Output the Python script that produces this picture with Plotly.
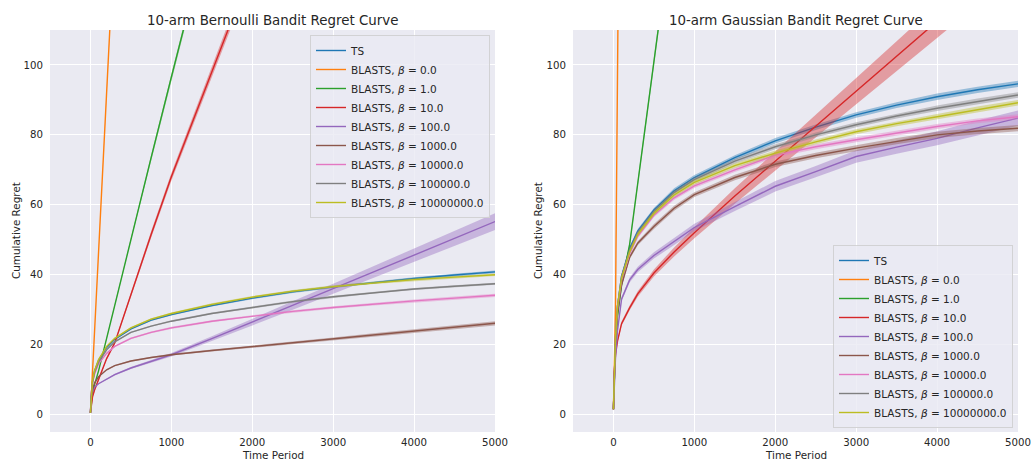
import plotly.graph_objects as go

# ---------------- data ----------------
T = [0, 10, 25, 50, 100, 200, 300, 500, 750, 1000, 1500, 2000, 2500, 3000, 3500, 4000, 4500, 5000]

LABELS = ["TS",
          "BLASTS, <i>β</i> = 0.0",
          "BLASTS, <i>β</i> = 1.0",
          "BLASTS, <i>β</i> = 10.0",
          "BLASTS, <i>β</i> = 100.0",
          "BLASTS, <i>β</i> = 1000.0",
          "BLASTS, <i>β</i> = 10000.0",
          "BLASTS, <i>β</i> = 100000.0",
          "BLASTS, <i>β</i> = 10000000.0"]

COLORS = ["#1f77b4", "#ff7f0e", "#2ca02c", "#d62728", "#9467bd",
          "#8c564b", "#e377c2", "#7f7f7f", "#bcbd22"]

# 10-arm Bernoulli bandit: mean cumulative regret
bern_ts   = [0.5, 6, 9.5, 12.5, 15.5, 19.2, 21.5, 24.5, 27, 28.6, 31.2, 33.3, 35.1, 36.5, 37.8, 38.9, 39.9, 40.8]
bern_b0   = [0.5, 5, 11.5, 23, 46, 92, 138, 230, 345, 460, 690, 920, 1150, 1380, 1610, 1840, 2070, 2300]
bern_b1   = [0.5, 3.5, 6, 8.5, 12.5, 21.8, 31.3, 50.3, 73.5, 96.5, 142, 187.5, 233, 278.5, 324, 369.5, 415, 460.5]
bern_b10  = [0.5, 3, 5, 7, 10, 16, 20.5, 34.5, 51.5, 68, 98, 128, 158, 188, 218, 248, 278, 308]
bern_b100 = [0.5, 5, 6.5, 7.8, 8.8, 10.2, 11.4, 13.3, 15.2, 17.1, 21.7, 26.4, 31.2, 36.0, 40.8, 45.6, 50.4, 55.2]
bern_b1e3 = [0.5, 5, 7, 9, 10.8, 12.8, 14, 15.3, 16.3, 17.1, 18.3, 19.4, 20.5, 21.6, 22.8, 23.9, 25.0, 26.1]
bern_b1e4 = [0.5, 6, 9, 11.5, 14.5, 17.5, 19.5, 21.8, 23.5, 24.8, 26.7, 28.2, 29.5, 30.6, 31.6, 32.5, 33.3, 34.1]
bern_b1e5 = [0.5, 6, 9, 12, 15, 18.5, 20.8, 23.5, 25.3, 26.7, 28.9, 30.6, 32.3, 33.7, 34.9, 35.9, 36.7, 37.4]
bern_b1e7 = [0.5, 6, 9.5, 12.5, 15.7, 19.5, 21.8, 24.8, 27.3, 28.9, 31.5, 33.6, 35.3, 36.6, 37.7, 38.6, 39.3, 40.0]

# Bernoulli: confidence band half-widths
bern_ci_ts   = [0, 0.1, 0.1, 0.15, 0.2, 0.2, 0.2, 0.25, 0.25, 0.3, 0.3, 0.3, 0.35, 0.35, 0.35, 0.4, 0.4, 0.4]
bern_ci_b0   = [0, 0.1, 0.2, 0.3, 0.4, 0.6, 0.8, 1.0, 1.3, 1.6, 2, 2.5, 3, 3.5, 4, 4.5, 5, 5.5]
bern_ci_b1   = [0, 0.1, 0.1, 0.2, 0.2, 0.3, 0.4, 0.5, 0.7, 0.9, 1.2, 1.5, 1.8, 2.1, 2.4, 2.7, 3, 3.3]
bern_ci_b10  = [0, 0.1, 0.1, 0.2, 0.2, 0.3, 0.4, 0.6, 0.9, 1.1, 1.5, 1.9, 2.3, 2.7, 3.1, 3.5, 3.9, 4.3]
bern_ci_b100 = [0, 0.1, 0.1, 0.1, 0.15, 0.2, 0.25, 0.3, 0.4, 0.5, 0.7, 0.9, 1.2, 1.4, 1.7, 1.9, 2.2, 2.4]
bern_ci_b1e3 = [0, 0.1, 0.1, 0.1, 0.15, 0.15, 0.2, 0.2, 0.2, 0.25, 0.3, 0.3, 0.35, 0.4, 0.45, 0.5, 0.55, 0.6]
bern_ci_b1e4 = [0, 0.1, 0.1, 0.15, 0.2, 0.2, 0.2, 0.25, 0.25, 0.3, 0.3, 0.3, 0.35, 0.35, 0.4, 0.4, 0.45, 0.45]
bern_ci_b1e5 = [0, 0.1, 0.1, 0.15, 0.15, 0.2, 0.2, 0.2, 0.2, 0.25, 0.25, 0.25, 0.3, 0.3, 0.3, 0.3, 0.3, 0.3]
bern_ci_b1e7 = [0, 0.1, 0.1, 0.15, 0.2, 0.2, 0.2, 0.25, 0.25, 0.3, 0.3, 0.3, 0.3, 0.35, 0.35, 0.35, 0.35, 0.35]

# 10-arm Gaussian bandit: mean cumulative regret
gaus_ts   = [1.5, 14, 22, 31, 39.5, 47.5, 52.5, 58.5, 64, 67.8, 73.5, 78.3, 82.2, 85.7, 88.5, 90.9, 92.9, 94.6]
gaus_b0   = [1.5, 12, 30, 97, 232, 502, 772, 1312, 1987, 2662, 4012, 5362, 6712, 8062, 9412, 10762, 12112, 13462]
gaus_b1   = [1.5, 13, 20, 28, 37, 48.7, 66, 101, 144.5, 188, 275, 362, 449, 536, 623, 710, 797, 884]
gaus_b10  = [1.5, 12, 17, 21, 26, 30.5, 34.5, 40.5, 46.5, 52, 62.5, 72.5, 82.5, 92.5, 102.5, 112.5, 122.5, 132.5]
gaus_b100 = [1.5, 10, 16, 24, 33, 38.5, 41.5, 45.5, 49.5, 53.5, 59.5, 65.3, 69.5, 73.8, 76.5, 79, 82, 84.8]
gaus_b1e3 = [1.5, 13, 21, 29, 37, 45, 49, 53.8, 59, 62.9, 67.8, 71.6, 74.1, 76.2, 78.2, 80, 81.1, 81.9]
gaus_b1e4 = [1.5, 14, 22, 30.5, 38.5, 46, 51, 57, 62, 65.4, 70, 74.2, 76.6, 78.6, 80.6, 82.4, 84, 85.2]
gaus_b1e5 = [1.5, 14, 22, 31, 39.5, 47, 52, 58, 63.5, 67.2, 72.5, 76.6, 80, 82.9, 85.4, 87.6, 89.6, 91.4]
gaus_b1e7 = [1.5, 14, 22, 31, 39, 46.5, 51.5, 57.5, 62.8, 66.4, 71.2, 74.8, 78, 80.9, 83.2, 85.2, 87.3, 89.2]

# Gaussian: confidence band half-widths
gaus_ci_ts   = [0, 0.3, 0.4, 0.5, 0.5, 0.6, 0.6, 0.6, 0.7, 0.7, 0.7, 0.8, 0.8, 0.8, 0.8, 0.9, 0.9, 0.9]
gaus_ci_b0   = [0, 0.3, 0.5, 1, 2, 4, 6, 10, 15, 20, 30, 40, 50, 60, 70, 80, 90, 100]
gaus_ci_b1   = [0, 0.3, 0.4, 0.5, 0.6, 0.7, 0.9, 1.2, 1.6, 2, 3, 4, 5, 6, 7, 8, 9, 10]
gaus_ci_b10  = [0, 0.3, 0.4, 0.5, 0.6, 0.7, 0.8, 1.0, 1.3, 1.6, 2.2, 2.8, 3.3, 3.8, 4.3, 4.8, 5.3, 5.8]
gaus_ci_b100 = [0, 0.3, 0.4, 0.5, 0.6, 0.7, 0.8, 0.9, 1.0, 1.1, 1.3, 1.5, 1.6, 1.8, 1.9, 2.0, 2.1, 2.2]
gaus_ci_b1e3 = [0, 0.3, 0.4, 0.5, 0.5, 0.6, 0.6, 0.7, 0.7, 0.7, 0.8, 0.8, 0.8, 0.8, 0.9, 0.9, 0.9, 0.9]
gaus_ci_b1e4 = [0, 0.3, 0.4, 0.5, 0.5, 0.5, 0.6, 0.6, 0.6, 0.6, 0.6, 0.7, 0.7, 0.7, 0.7, 0.7, 0.7, 0.7]
gaus_ci_b1e5 = [0, 0.3, 0.4, 0.5, 0.5, 0.6, 0.6, 0.6, 0.6, 0.7, 0.7, 0.7, 0.7, 0.7, 0.7, 0.8, 0.8, 0.8]
gaus_ci_b1e7 = [0, 0.3, 0.4, 0.5, 0.5, 0.6, 0.6, 0.6, 0.6, 0.7, 0.7, 0.7, 0.7, 0.7, 0.7, 0.8, 0.8, 0.8]

BERN = [bern_ts, bern_b0, bern_b1, bern_b10, bern_b100, bern_b1e3, bern_b1e4, bern_b1e5, bern_b1e7]
BERN_CI = [bern_ci_ts, bern_ci_b0, bern_ci_b1, bern_ci_b10, bern_ci_b100, bern_ci_b1e3, bern_ci_b1e4, bern_ci_b1e5, bern_ci_b1e7]
GAUS = [gaus_ts, gaus_b0, gaus_b1, gaus_b10, gaus_b100, gaus_b1e3, gaus_b1e4, gaus_b1e5, gaus_b1e7]
GAUS_CI = [gaus_ci_ts, gaus_ci_b0, gaus_ci_b1, gaus_ci_b10, gaus_ci_b100, gaus_ci_b1e3, gaus_ci_b1e4, gaus_ci_b1e5, gaus_ci_b1e7]

X_TICKS = [0, 1000, 2000, 3000, 4000, 5000]
Y_TICKS = [0, 20, 40, 60, 80, 100]

# ---------------- figure ----------------
W, H = 1031, 462
TEXT = "#262626"
FONT = "DejaVu Sans"
BG = "#EAEAF2"


def rgba(hex_color, a):
    h = hex_color.lstrip("#")
    r, g, b = int(h[0:2], 16), int(h[2:4], 16), int(h[4:6], 16)
    return f"rgba({r},{g},{b},{a})"


fig = go.Figure()


def add_panel(series, cis, xa, ya, legend):
    for vals, ci, col, name in zip(series, cis, COLORS, LABELS):
        upper = [v + c for v, c in zip(vals, ci)]
        lower = [v - c for v, c in zip(vals, ci)]
        fig.add_trace(go.Scatter(
            x=T + T[::-1], y=upper + lower[::-1], fill="toself",
            fillcolor=rgba(col, 0.4), line=dict(width=0), mode="lines",
            hoverinfo="skip", showlegend=False, xaxis=xa, yaxis=ya))
        fig.add_trace(go.Scatter(
            x=T, y=vals, mode="lines", name=name,
            line=dict(color=col, width=1.4),
            xaxis=xa, yaxis=ya, legend=legend))


add_panel(BERN, BERN_CI, "x", "y", "legend")
add_panel(GAUS, GAUS_CI, "x2", "y2", "legend2")


def fx(px):
    return px / W


def fy(px):
    return 1 - px / H


axis_common = dict(
    showgrid=True, gridcolor="white", gridwidth=1, zeroline=False, automargin=False,
    showline=False, ticks="outside", tickcolor="rgba(0,0,0,0)",
    tickfont=dict(family=FONT, size=10.2, color=TEXT))

legend_common = dict(
    bgcolor="rgba(234,234,242,0.8)", bordercolor="rgba(204,204,204,0.8)",
    borderwidth=1, font=dict(family=FONT, size=10.5, color=TEXT),
    itemwidth=30, tracegroupgap=0)

fig.update_layout(
    width=W, height=H, autosize=False, margin=dict(l=0, r=0, t=0, b=0),
    paper_bgcolor="white", plot_bgcolor=BG,
    font=dict(family=FONT, color=TEXT),
    xaxis=dict(domain=[fx(50), fx(495)], range=[-500, 5000], tickvals=X_TICKS, anchor="y", ticklen=1, **axis_common),
    yaxis=dict(domain=[fy(432), fy(30)], range=[-5, 110], tickvals=Y_TICKS, anchor="x", ticklen=4, **axis_common),
    xaxis2=dict(domain=[fx(573), fx(1018)], range=[-500, 5000], tickvals=X_TICKS, anchor="y2", ticklen=1, **axis_common),
    yaxis2=dict(domain=[fy(432), fy(30)], range=[-5, 110], tickvals=Y_TICKS, anchor="x2", ticklen=4, **axis_common),
    legend=dict(x=fx(490), xanchor="right", y=fy(35), yanchor="top", **legend_common),
    legend2=dict(x=fx(1013), xanchor="right", y=fy(428), yanchor="bottom", **legend_common),
)

ann = []
for cx, title in [((50 + 495) / 2, "10-arm Bernoulli Bandit Regret Curve"),
                  ((573 + 1018) / 2, "10-arm Gaussian Bandit Regret Curve")]:
    ann.append(dict(x=fx(cx), y=fy(20.5), xref="paper", yref="paper", text=title,
                    showarrow=False, xanchor="center", yanchor="middle",
                    font=dict(family=FONT, size=13.4, color=TEXT)))
    ann.append(dict(x=fx(cx), y=fy(455), xref="paper", yref="paper", text="Time Period",
                    showarrow=False, xanchor="center", yanchor="middle",
                    font=dict(family=FONT, size=10.4, color=TEXT)))
for lx in [16, 538]:
    ann.append(dict(x=fx(lx), y=fy(231), xref="paper", yref="paper", text="Cumulative Regret",
                    showarrow=False, xanchor="center", yanchor="middle", textangle=-90,
                    font=dict(family=FONT, size=10.4, color=TEXT)))
fig.update_layout(annotations=ann)

fig.write_html("out.html",
               config={"responsive": False, "displayModeBar": False},
               post_script="document.body.style.margin='0';document.body.style.overflow='hidden';")
